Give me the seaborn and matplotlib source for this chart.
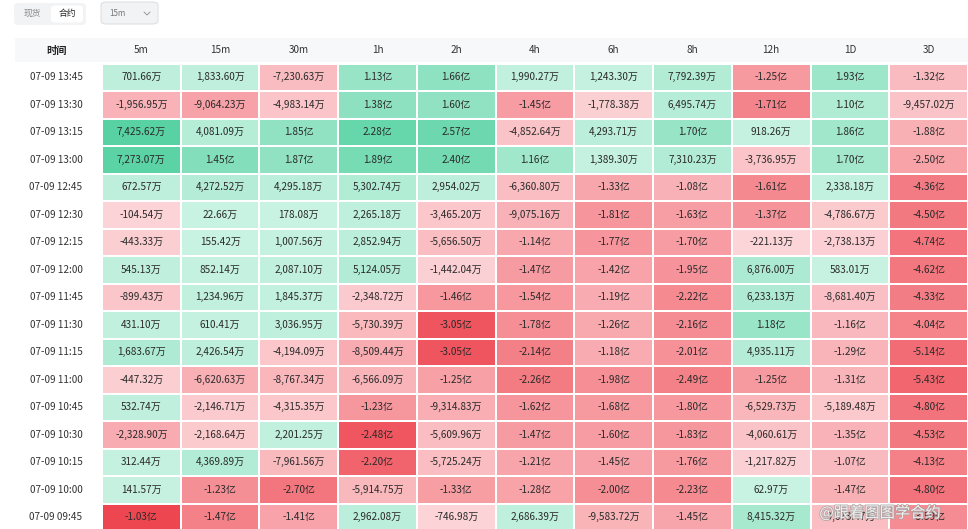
import numpy as np
import pandas as pd
import matplotlib
matplotlib.use("Agg")
import matplotlib.pyplot as plt
import seaborn as sns
from matplotlib.colors import ListedColormap, to_rgb
from matplotlib.patches import FancyBboxPatch, Rectangle
from matplotlib.lines import Line2D
import matplotlib.patheffects as pe

# ---------------- data (values in 万) ----------------
times = ["07-09 13:45", "07-09 13:30", "07-09 13:15", "07-09 13:00", "07-09 12:45",
         "07-09 12:30", "07-09 12:15", "07-09 12:00", "07-09 11:45", "07-09 11:30",
         "07-09 11:15", "07-09 11:00", "07-09 10:45", "07-09 10:30", "07-09 10:15",
         "07-09 10:00", "07-09 09:45"]
periods = ["5m", "15m", "30m", "1h", "2h", "4h", "6h", "8h", "12h", "1D", "3D"]

v_5m = [701.66, -1956.95, 7425.62, 7273.07, 672.57, -104.54, -443.33, 545.13, -899.43,
        431.10, 1683.67, -447.32, 532.74, -2328.90, 312.44, 141.57, -10300]
v_15m = [1833.60, -9064.23, 4081.09, 14500, 4272.52, 22.66, 155.42, 852.14, 1234.96,
         610.41, 2426.54, -6620.63, -2146.71, -2168.64, 4369.89, -12300, -14700]
v_30m = [-7230.63, -4983.14, 18500, 18700, 4295.18, 178.08, 1007.56, 2087.10, 1845.37,
         3036.95, -4194.09, -8767.34, -4315.35, 2201.25, -7961.56, -27000, -14100]
v_1h = [11300, 13800, 22800, 18900, 5302.74, 2265.18, 2852.94, 5124.05, -2348.72,
        -5730.39, -8509.44, -6566.09, -12300, -24800, -22000, -5914.75, 2962.08]
v_2h = [16600, 16000, 25700, 24000, 2954.02, -3465.20, -5656.50, -1442.04, -14600,
        -30500, -30500, -12500, -9314.83, -5609.96, -5725.24, -13300, -746.98]
v_4h = [1990.27, -14500, -4852.64, 11600, -6360.80, -9075.16, -11400, -14700, -15400,
        -17800, -21400, -22600, -16200, -14700, -12100, -12800, 2686.39]
v_6h = [1243.30, -1778.38, 4293.71, 1389.30, -13300, -18100, -17700, -14200, -11900,
        -12600, -11800, -19800, -16800, -16000, -14500, -20000, -9583.72]
v_8h = [7792.39, 6495.74, 17000, 7310.23, -10800, -16300, -17000, -19500, -22200,
        -21600, -20100, -24900, -18000, -18300, -17600, -22300, -14500]
v_12h = [-12500, -17100, 918.26, -3736.95, -16100, -13700, -221.13, 6876.00, 6233.13,
         11800, 4935.11, -12500, -6529.73, -4060.61, -1217.82, 62.97, 8415.32]
v_1D = [19300, 11000, 18600, 17000, 2338.18, -4786.67, -2738.13, 583.01, -8681.40,
        -11600, -12900, -13100, -5189.48, -13500, -10700, -14700, -9673.47]
v_3D = [-13200, -9457.02, -18800, -25000, -43600, -45000, -47400, -46200, -43300,
        -40400, -51400, -54300, -48000, -45300, -41300, -48000, -35900]

columns = [v_5m, v_15m, v_30m, v_1h, v_2h, v_4h, v_6h, v_8h, v_12h, v_1D, v_3D]

# full-colour magnitude per period (万), used only for the colour scale
color_caps = [8000, 25000, 40000, 28000, 34000, 36000, 40000, 42000, 30000, 55000, 70000]

# ---------------- style ----------------
sns.set_theme(style="white")
plt.rcParams["font.family"] = ["Noto Sans CJK SC", "DejaVu Sans"]

W, H = 968, 529
fig = plt.figure(figsize=(W / 100, H / 100), dpi=100)
fig.patch.set_facecolor("white")

df = pd.DataFrame({p: c for p, c in zip(periods, columns)}, index=times)


def fmt(v):
    if abs(v) >= 10000:
        return f"{v / 10000:.2f}亿"
    return f"{v:,.2f}万"


labels = df.apply(lambda s: s.map(fmt))
caps = pd.Series(color_caps, index=periods)
rel = (df / caps).clip(-1, 1)


def ramp(c0, c1, n):
    a, b = np.array(to_rgb(c0)), np.array(to_rgb(c1))
    t = np.linspace(0, 1, n)[:, None]
    return a + (b - a) * t


cols = np.vstack([ramp("#ee4650", "#fcd6d9", 256), ramp("#c8f2e2", "#50d09e", 256)])
cmap = ListedColormap(cols)


def px(x0, y0, w, h):
    return [x0 / W, 1 - (y0 + h) / H, w / W, h / H]


# header band (drawn beneath the axes)
fig.patches.append(Rectangle((15 / W, 1 - 62 / H), (W - 15) / W, 24 / H,
                             transform=fig.transFigure, facecolor="#f7f8fa",
                             edgecolor="none", zorder=-5))

ax = fig.add_axes(px(102, 63.5, 866, 467.5))
ax.set_zorder(2)
sns.heatmap(rel, ax=ax, cmap=cmap, vmin=-1, vmax=1, cbar=False,
            annot=labels, fmt="", linewidths=1.3, linecolor="white",
            annot_kws={"fontsize": 7.2, "color": "#2a2a2a"})
ax.set_xlabel("")
ax.set_ylabel("")
ax.tick_params(axis="x", top=True, labeltop=True, bottom=False, labelbottom=False,
               length=0, pad=6, labelsize=7.2, labelcolor="#333333")
ax.tick_params(axis="y", length=0, pad=14, labelsize=7.2, labelcolor="#333333")
plt.setp(ax.get_yticklabels(), rotation=0)
plt.setp(ax.get_xticklabels(), rotation=0)
for s in ax.spines.values():
    s.set_visible(False)

fig.text(57 / W, 1 - 51 / H, "时间", ha="center", va="center", fontsize=7.4,
         color="#222222", fontweight="bold")

# top controls
fig.patches.append(FancyBboxPatch((14 / W, 1 - 25 / H), 72 / W, 22 / H,
                                  boxstyle="round,pad=0,rounding_size=0.006",
                                  transform=fig.transFigure, facecolor="#f2f3f5",
                                  edgecolor="none"))
fig.patches.append(FancyBboxPatch((51 / W, 1 - 22.5 / H), 32 / W, 17 / H,
                                  boxstyle="round,pad=0,rounding_size=0.005",
                                  transform=fig.transFigure, facecolor="white",
                                  edgecolor="none"))
fig.text(32 / W, 1 - 13.5 / H, "现货", ha="center", va="center", fontsize=6.3, color="#8a8a8a")
fig.text(67 / W, 1 - 13.5 / H, "合约", ha="center", va="center", fontsize=6.3, color="#222222")

fig.patches.append(FancyBboxPatch((101 / W, 1 - 24 / H), 57 / W, 22 / H,
                                  boxstyle="round,pad=0,rounding_size=0.006",
                                  transform=fig.transFigure, facecolor="#f2f3f5",
                                  edgecolor="#dcdde0", linewidth=0.7))
fig.text(117 / W, 1 - 13.5 / H, "15m", ha="center", va="center", fontsize=5.8, color="#777777")
fig.lines.append(Line2D([144 / W, 147 / W, 150 / W], [1 - 12 / H, 1 - 15 / H, 1 - 12 / H],
                        transform=fig.transFigure, color="#999999", linewidth=0.7))

# watermark
fig.text(880 / W, 1 - 513 / H, "@跟着图图学合约", ha="center", va="center", fontsize=11,
         color="white", alpha=0.8, zorder=10,
         path_effects=[pe.withStroke(linewidth=1.2, foreground="#a0a0a0")])

fig.savefig("out.png", dpi=100)
